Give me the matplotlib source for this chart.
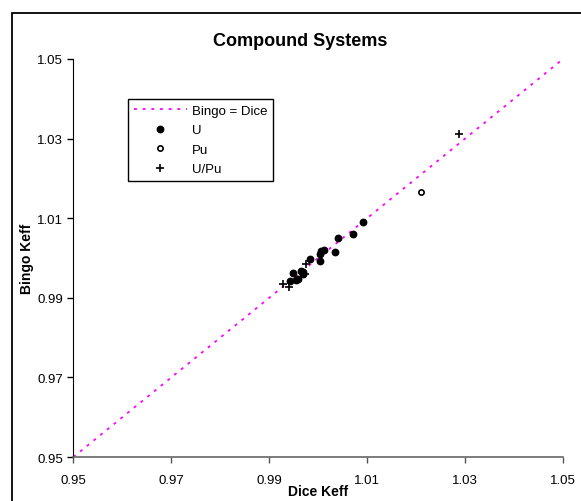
import matplotlib
matplotlib.use("Agg")
import matplotlib.pyplot as plt
from matplotlib.patches import Rectangle

plt.rcParams['font.family'] = ['Liberation Sans', 'DejaVu Sans']

# Data
u_dice = [1.0092, 1.0072, 1.0040, 1.0034, 1.0011, 1.0006, 1.0003, 1.0004,
          0.9983, 0.9948, 0.9964, 0.9968, 0.9970, 0.9958, 0.9955, 0.9943]
u_bingo = [1.0090, 1.0061, 1.0050, 1.0014, 1.0021, 1.0018, 1.0011, 0.9993,
           0.9997, 0.9962, 0.9968, 0.9965, 0.9959, 0.9947, 0.9945, 0.9943]
pu_dice = [1.0210]
pu_bingo = [1.0167]
upu_dice = [0.9929, 0.9941, 0.9976, 0.9974, 1.0288]
upu_bingo = [0.9934, 0.9928, 0.9986, 0.9959, 1.0311]
line_vals = [0.95, 1.05]
ticks = [0.95, 0.97, 0.99, 1.01, 1.03, 1.05]
tick_labels = ["0.95", "0.97", "0.99", "1.01", "1.03", "1.05"]

fig = plt.figure(figsize=(5.81, 5.02), dpi=100)
ax = fig.add_axes([0.1263, 0.0876, 0.969 - 0.1263, 0.8805 - 0.0876])

# outer chart frame (left and top edges visible)
fig.patches.append(Rectangle((12 / 581, -0.2), 1.5, 1.2 - 14 / 502,
                             transform=fig.transFigure, fill=False,
                             edgecolor='black', linewidth=1.3))

ax.plot(line_vals, line_vals, color='#FF00FF', linewidth=1.3,
        linestyle=(0, (1.6, 3.2)), label='Bingo = Dice', clip_on=False, zorder=2)
ax.plot(u_dice, u_bingo, linestyle='none', marker='o', markersize=4.6,
        color='black', label='U', zorder=3)
ax.plot(pu_dice, pu_bingo, linestyle='none', marker='o', markersize=3.8,
        markerfacecolor='white', markeredgecolor='black', markeredgewidth=1.2,
        label='Pu', zorder=3)
ax.plot(upu_dice, upu_bingo, linestyle='none', marker='+', markersize=6,
        markeredgewidth=1.2, color='black', label='U/Pu', zorder=3)

ax.set_xlim(0.95, 1.05)
ax.set_ylim(0.95, 1.05)
ax.set_xticks(ticks)
ax.set_xticklabels(tick_labels)
ax.set_yticks(ticks)
ax.set_yticklabels(tick_labels)
ax.tick_params(axis='both', labelsize=9.5, length=4, width=1, direction='out',
               colors='black')
ax.tick_params(axis='x', pad=8, color='#555555')
ax.spines['top'].set_visible(False)
ax.spines['right'].set_visible(False)
ax.spines['left'].set_color('black')
ax.spines['bottom'].set_color('#666666')
ax.spines['bottom'].set_linewidth(1.2)

ax.set_xlabel('Dice Keff', fontsize=10, fontweight='bold', labelpad=-1)
ax.set_ylabel('Bingo Keff', fontsize=10, fontweight='bold', labelpad=2)
fig.text(300 / 581, 1 - 42 / 502, 'Compound Systems', ha='center', va='center',
         fontsize=13, fontweight='bold')

leg = ax.legend(loc='upper left', bbox_to_anchor=(0.1115, 0.9), fontsize=9.5,
                frameon=True, fancybox=False, edgecolor='black', framealpha=1,
                handlelength=4.0, handletextpad=0.4, labelspacing=0.55,
                borderpad=0.45, borderaxespad=0)
leg.get_frame().set_linewidth(1.0)

fig.savefig('out.png', dpi=100)
